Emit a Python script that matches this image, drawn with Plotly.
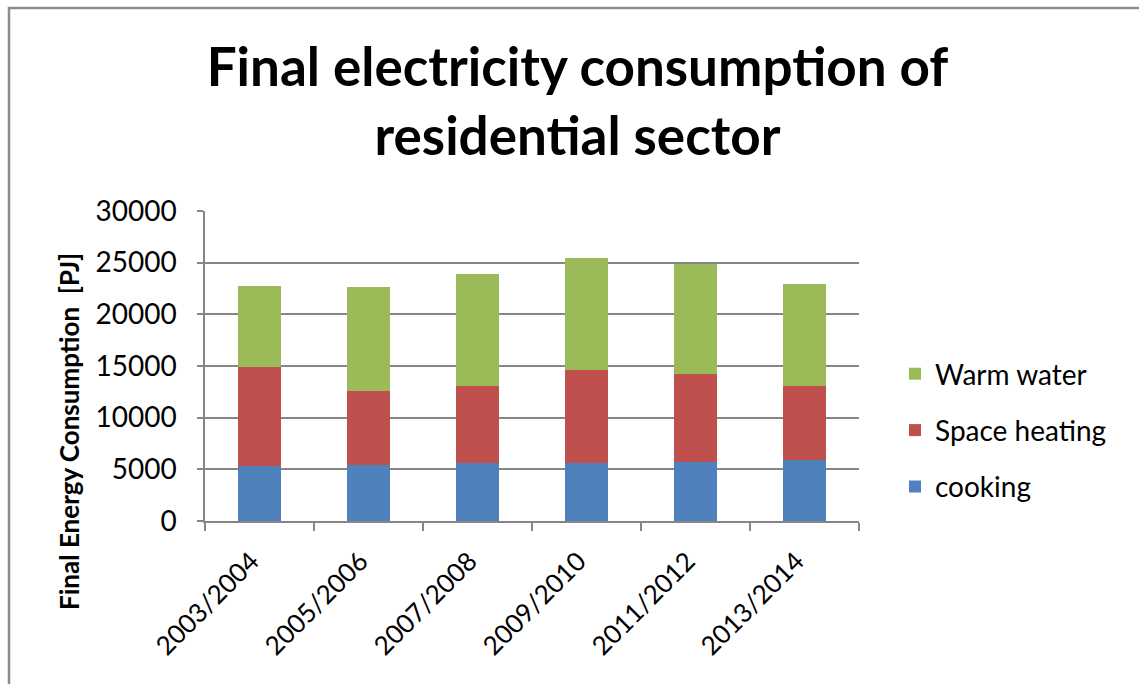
import plotly.graph_objects as go

periods = ["2003/2004", "2005/2006", "2007/2008", "2009/2010", "2011/2012", "2013/2014"]
cooking = [5320, 5455, 5580, 5580, 5745, 5900]
space_heating = [9620, 7125, 7455, 9070, 8480, 7135]
warm_water = [7840, 10065, 10905, 10770, 10615, 9935]
y_ticks = [0, 5000, 10000, 15000, 20000, 25000, 30000]

FONT = "Lato"
# (name, values, colour, legend rank) - stacked bottom to top
series = [
    ("cooking", cooking, "#4F81BD", 3),
    ("Space heating", space_heating, "#C0504D", 2),
    ("Warm water", warm_water, "#9BBB59", 1),
]

fig = go.Figure()
for name, vals, color, rank in series:
    fig.add_trace(go.Bar(
        x=periods, y=vals, name=name, legendgroup=name, legendrank=rank,
        marker=dict(color=color, line=dict(width=0)),
    ))

W, H = 1139, 684
L, R, T, B = 205, 280, 211, 163
pw, ph = W - L - R, H - T - B

def px_x(p):
    return (p - L) / pw

def px_y(p):
    return (H - B - p) / ph

fig.update_layout(
    width=W, height=H,
    margin=dict(l=L, r=R, t=T, b=B),
    barmode="stack", bargap=0.6,
    plot_bgcolor="white", paper_bgcolor="white",
    font=dict(family=FONT, color="#000000"),
    title=dict(
        text="Final electricity consumption of<br>residential sector",
        x=0.507, xanchor="center", xref="container",
        y=1 - 86 / H, yanchor="middle", yref="container",
        font=dict(family=FONT, size=53, color="#000000", weight="bold"),
    ),
    legend=dict(
        x=px_x(895), y=px_y(349), xanchor="left", yanchor="top",
        traceorder="grouped", tracegroupgap=17,
        font=dict(family=FONT, size=28),
        bgcolor="rgba(0,0,0,0)",
    ),
    xaxis=dict(
        type="category", tickangle=-45, tickson="boundaries",
        ticks="outside", ticklen=8, tickcolor="#868686", tickwidth=1.5,
        showline=True, linecolor="#868686", linewidth=1.5,
        showgrid=False, tickfont=dict(family=FONT, size=26),
        ticklabelstandoff=13, ticklabelshift=-8,
    ),
    yaxis=dict(
        range=[0, 30000], tickvals=y_ticks, tickformat="d",
        ticks="outside", ticklen=6, tickcolor="#868686", tickwidth=1.5,
        showline=True, linecolor="#868686", linewidth=1.5,
        showgrid=True, gridcolor="#868686", gridwidth=1.5,
        zeroline=False, tickfont=dict(family=FONT, size=28),
        ticklabelstandoff=15,
    ),
    annotations=[dict(
        text="<b>Final Energy Consumption  [PJ]</b>",
        xref="paper", yref="paper", x=px_x(69), y=px_y(432),
        xanchor="center", yanchor="middle", textangle=-90, showarrow=False,
        font=dict(family=FONT, size=26, color="#000000"),
    )],
    shapes=[dict(
        type="rect", xref="paper", yref="paper",
        x0=px_x(9), x1=px_x(1160), y0=px_y(720), y1=px_y(8),
        line=dict(color="#8C8C8C", width=2.5), fillcolor="rgba(0,0,0,0)",
        layer="below",
    )],
)

fig.write_html("out.html")
